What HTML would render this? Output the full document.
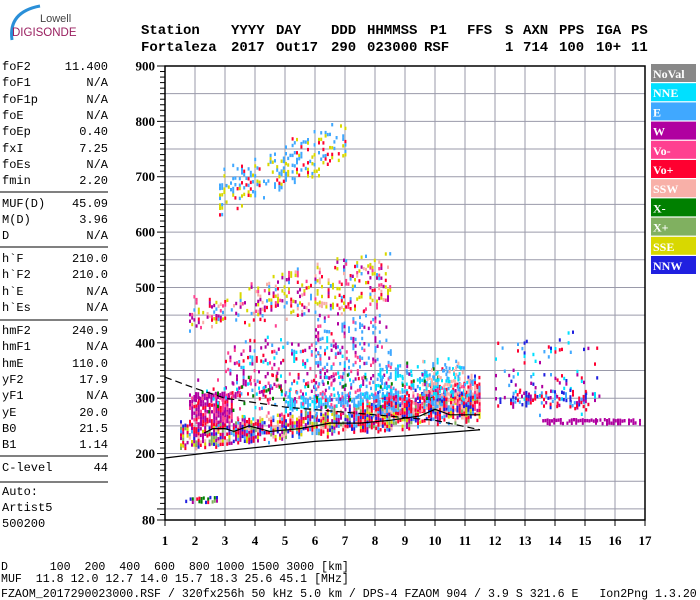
<!DOCTYPE html>
<html><head><meta charset="utf-8"><style>
body{margin:0;background:#fff;width:700px;height:600px;overflow:hidden}
svg{display:block}
.mono{font-family:"Liberation Mono",monospace}
.hdr{font-family:"Liberation Mono",monospace;font-weight:bold;font-size:14px}
.ax{font-family:"Liberation Serif",serif;font-weight:bold;font-size:13px}
.lg{font-family:"Liberation Serif",serif;font-weight:bold;font-size:12px;fill:#fff}
</style></head><body>
<svg id="chart" width="700" height="600" xmlns="http://www.w3.org/2000/svg">
<g>
<path d="M12 40 Q8 12 40 6" stroke="#2a8fd8" stroke-width="3" fill="none"/>
<text x="40" y="22" font-family="Liberation Sans,sans-serif" font-size="11" fill="#444">Lowell</text>
<text x="12" y="36" font-family="Liberation Sans,sans-serif" font-size="11.5" fill="#9a2060">DIGISONDE</text>
</g>
<g id="header"></g>
<g id="params"></g>
<g id="grid"></g>
<g id="marks"></g>
<g id="traces"></g>
<g id="axes"></g>
<g id="legend"></g>
<g>
<text class="mono" x="1" y="570" font-size="11.6" xml:space="preserve">D      100  200  400  600  800 1000 1500 3000 [km]</text>
<text class="mono" x="1" y="582" font-size="11.6" xml:space="preserve">MUF  11.8 12.0 12.7 14.0 15.7 18.3 25.6 45.1 [MHz]</text>
<text class="mono" x="1" y="597" font-size="11.6" xml:space="preserve">FZAOM_2017290023000.RSF / 320fx256h 50 kHz 5.0 km / DPS-4 FZAOM 904 / 3.9 S 321.6 E   Ion2Png 1.3.20</text>
</g>
</svg>
<script>
// ---- data ----
const xTicks=[1,2,3,4,5,6,7,8,9,10,11,12,13,14,15,16,17];
const yTicks=[80,200,300,400,500,600,700,800,900];
const legendNames=["NoVal","NNE","E","W","Vo-","Vo+","SSW","X-","X+","SSE","NNW"];
const legendColors=["#888888","#00e0ff","#40a8ff","#b000a0","#ff4090","#ff0030","#f8b0a8","#008000","#80b060","#d8d800","#2020e0"];
// echo clouds: freq range, low/high heights at start & end, density, palette (legend indices)
const cloudF0=[1.5,5,1.8,2,5,8,3,6,8,1.8,2.8,12,12.5,13.5,1.6,2,9.5];
const cloudF1=[5,11.5,3.2,3.5,9,11.5,7,8.5,11,8.5,7,15.5,15,17,2.7,11,11.2];
const cloudLo0=[210,232,250,298,280,272,300,290,310,425,640,280,285,257,114,265,300];
const cloudLo1=[232,265,258,302,295,285,300,290,315,470,730,280,285,257,114,300,300];
const cloudHi0=[255,268,298,310,300,305,390,440,360,475,700,400,312,263,122,330,360];
const cloudHi1=[268,318,300,312,312,335,400,440,365,560,800,400,312,263,122,360,360];
const cloudDens=[0.88,0.88,0.85,0.8,0.65,0.6,0.22,0.22,0.25,0.3,0.28,0.13,0.45,0.8,0.6,0.12,0.3];
const cloudPal=[[5,5,5,2,3,9,8,6,10,3],[5,5,5,2,9,3,6,8,10],[3,3,3,4,5],[3,3,4],[2,2,2,1],[5,5,6,2,10,4],[3,3,4,5,1,2],[2,2,3,4],[1,1,2],[9,9,5,6,3,2,4],[2,2,2,9,9,5],[2,3,10,5,1],[10,2,3,5],[3],[7,10,5,3,8],[3,5,2,1,7,4],[1,6,6,2]];
const dashTopF=[1,2,3,5,8,10,11.5];
const dashTopH=[338,318,300,284,270,260,243];
const lowLineF=[1,3,6,9,11.5];
const lowLineH=[192,205,222,232,243];
const traceF=[2.3,2.6,3,3.3,3.8,4.5,5.5,6.5,7.5,8.5,9.5,10,10.5,11.5];
const traceH=[237,245,245,240,250,240,245,255,255,260,268,280,270,270];
const params=[["foF2","11.400",70],["foF1","N/A",86],["foF1p","N/A",103],["foE","N/A",119],["foEp","0.40",135],["fxI","7.25",152],["foEs","N/A",168],["fmin","2.20",184],
["MUF(D)","45.09",207],["M(D)","3.96",223],["D","N/A",239],["h`F","210.0",262],["h`F2","210.0",278],["h`E","N/A",295],["h`Es","N/A",311],
["hmF2","240.9",334],["hmF1","N/A",350],["hmE","110.0",367],["yF2","17.9",383],["yF1","N/A",399],["yE","20.0",416],["B0","21.5",432],["B1","1.14",448],
["C-level","44",471],["Auto:","",495],["Artist5","",511],["500200","",527]];
const sepY=[192,247,320,456,482];
// ---- scales ----
const X0=165,X1=645,Y0=520,Y1=66;
const fx=f=>X0+(f-1)*(X1-X0)/16;
const hy=h=>Y0-(h-80)*(Y0-Y1)/820;
const NS="http://www.w3.org/2000/svg";
function mk(p,tag,at){const e=document.createElementNS(NS,tag);for(const k in at)e.setAttribute(k,at[k]);p.appendChild(e);return e;}
// header
const hdr=document.getElementById('header');
const h1=[["Station",141],["YYYY",231],["DAY",276],["DDD",331],["HHMMSS",367],["P1",430],["FFS",467],["S",505],["AXN",523],["PPS",559],["IGA",596],["PS",631]];
const h2=[["Fortaleza",141],["2017",231],["Out17",276],["290",331],["023000",367],["RSF",424],["1",505],["714",523],["100",559],["10+",596],["11",631]];
h1.forEach(d=>{const t=mk(hdr,'text',{x:d[1],y:34,class:'hdr'});t.textContent=d[0];

});
h2.forEach(d=>{const t=mk(hdr,'text',{x:d[1],y:51,class:'hdr'});t.textContent=d[0];

});
// params
const pg=document.getElementById('params');
params.forEach(p=>{const a=mk(pg,'text',{x:2,y:p[2],class:'mono','font-size':'12'});a.textContent=p[0];


if(p[1]){const b=mk(pg,'text',{x:108,y:p[2],class:'mono','font-size':'12','text-anchor':'end'});b.textContent=p[1];

}});
sepY.forEach(y=>{const l=mk(pg,'line',{x1:0,x2:108,y1:y,y2:y,stroke:'#000'});

});
// grid
const g=document.getElementById('grid');
for(let h=100;h<=900;h+=50){const l=mk(g,'line',{x1:X0,x2:X1,y1:hy(h),y2:hy(h),stroke:'#9a9aaa','stroke-width':1});

}
xTicks.forEach(f=>{const l=mk(g,'line',{x1:fx(f),x2:fx(f),y1:Y1,y2:Y0,stroke:'#9a9aaa','stroke-width':1});

});
// marks
const mg=document.getElementById('marks');
function hash(i,j,k){let v=(i*73856093)^(j*19349663)^(k*83492791);v=(v^(v>>>13))*1274126177;v=v^(v>>>16);return ((v>>>0)%10007)/10007;}
for(let c=0;c<cloudF0.length;c++){
  const xa=fx(cloudF0[c]),xb=fx(cloudF1[c]);
  for(let x=xa,i=0;x<=xb;x+=2.2,i++){
    const t=(x-xa)/Math.max(1,xb-xa);
    const lo=cloudLo0[c]+(cloudLo1[c]-cloudLo0[c])*t, hi=cloudHi0[c]+(cloudHi1[c]-cloudHi0[c])*t;
    const span=hi-lo;
    const jl=(hash(i,99,c)-0.5)*0.35*span, jh=(hash(i,77,c)-0.5)*0.45*span;
    const ya=hy(hi+jh),yb=hy(lo+jl);
    const colDens=cloudDens[c]*(0.6+0.8*hash(i,55,c));
    for(let y=ya,j=0;y<=yb;y+=3.3,j++){
      if(hash(i,j,c)>colDens)continue;
      const pal=cloudPal[c];const col=legendColors[pal[Math.floor(hash(j,i,c+7)*pal.length)]];
      const r=mk(mg,'rect',{x:x.toFixed(1),y:y.toFixed(1),width:2,height:3.4,fill:col});
      
      
    }
  }
}
// traces
const tg=document.getElementById('traces');
const pts=(F,H)=>F.map((f,i)=>fx(f)+','+hy(H[i])).join(' ');
const d1=mk(tg,'polyline',{points:pts(dashTopF,dashTopH),fill:'none',stroke:'#000','stroke-width':1.2,'stroke-dasharray':'7,4'});


const d2=mk(tg,'polyline',{points:pts(lowLineF,lowLineH),fill:'none',stroke:'#000','stroke-width':1.2});


const d3=mk(tg,'polyline',{points:pts(traceF,traceH),fill:'none',stroke:'#000','stroke-width':1.2});


// axes
const ag=document.getElementById('axes');
const box=mk(ag,'rect',{x:X0,y:Y1,width:X1-X0,height:Y0-Y1,fill:'none',stroke:'#000','stroke-width':1.5});


for(let h=80;h<=900;h+=10){const maj=h%100===0||h===80;const l=mk(ag,'line',{x1:maj?157:160,x2:X0,y1:hy(h),y2:hy(h),stroke:'#000'});

}
yTicks.forEach(h=>{const t=mk(ag,'text',{x:155,y:hy(h)+4.5,class:'ax','text-anchor':'end'});t.textContent=h;

});
xTicks.forEach(f=>{const l=mk(ag,'line',{x1:fx(f),x2:fx(f),y1:Y0,y2:Y0+6,stroke:'#000'});


const t=mk(ag,'text',{x:fx(f),y:545,class:'ax','text-anchor':'middle'});t.textContent=f;

});
// legend
const lg=document.getElementById('legend');
legendNames.forEach((n,i)=>{const y=64+i*19.2;
const r=mk(lg,'rect',{x:651,y:y,width:45,height:18,fill:legendColors[i]});


const t=mk(lg,'text',{x:653,y:y+14,class:'lg'});t.textContent=n;

});
</script>
</body></html>
